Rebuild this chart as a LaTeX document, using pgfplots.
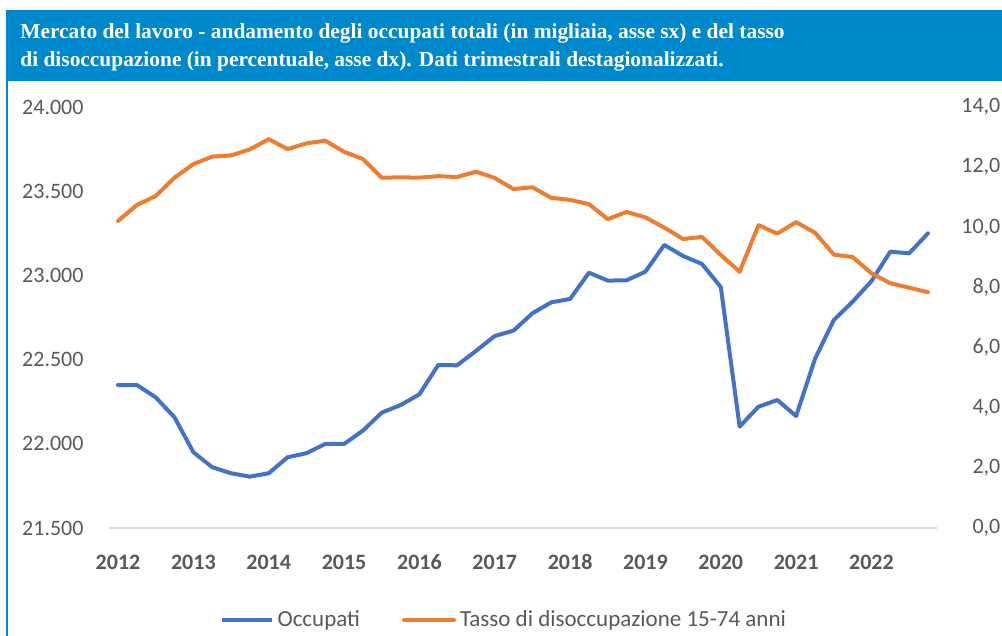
\documentclass[border=0pt]{standalone}
\usepackage{pgfplots}
\pgfplotsset{compat=1.18}
\usepackage{pgfplotstable}
\usepackage{fontspec}
\setmainfont{Carlito}
\newfontfamily\titlefont{Liberation Serif}
\definecolor{band}{HTML}{0088CC}
\definecolor{occ}{HTML}{4472C4}
\definecolor{tas}{HTML}{ED7D31}
\definecolor{tick}{HTML}{595959}
\definecolor{base}{HTML}{D9D9D9}

\pgfplotstableread{
x occ tasso
0 22349 10.21
1 22349 10.74
2 22276 11.04
3 22157 11.65
4 21950 12.10
5 21861 12.35
6 21825 12.39
7 21805 12.59
8 21825 12.93
9 21920 12.60
10 21944 12.79
11 21999 12.88
12 21999 12.51
13 22078 12.27
14 22185 11.65
15 22230 11.66
16 22294 11.65
17 22468 11.70
18 22466 11.67
19 22551 11.85
20 22640 11.64
21 22672 11.27
22 22775 11.33
23 22840 10.98
24 22860 10.91
25 23016 10.77
26 22969 10.27
27 22971 10.51
28 23022 10.33
29 23181 9.99
30 23115 9.61
31 23068 9.68
32 22931 9.08
33 22102 8.52
34 22220 10.07
35 22260 9.79
36 22165 10.17
37 22504 9.82
38 22735 9.09
39 22844 9.01
40 22966 8.47
41 23141 8.14
42 23131 7.99
43 23250 7.84
}\datatable

\begin{document}
\begin{tikzpicture}[x=1pt,y=1pt]
\useasboundingbox (0,0) rectangle (501,318);
\fill[white] (0,0) rectangle (501,318);
\fill[band] (3,277.5) rectangle (501,313);
\fill[band] (3,0) rectangle (4.2,313);
\node[anchor=base west, text=white, font=\titlefont\bfseries\fontsize{10.7}{14}\selectfont, inner sep=0] at (10,298.5) {Mercato del lavoro - andamento degli occupati totali (in migliaia, asse sx) e del tasso};
\node[anchor=base west, text=white, font=\titlefont\bfseries\fontsize{10.7}{14}\selectfont, inner sep=0] at (10,284.5) {di disoccupazione (in percentuale, asse dx). Dati trimestrali destagionalizzati.};

\begin{axis}[
  at={(54.3pt,54pt)}, anchor=south west,
  scale only axis, width=414.4pt, height=210.5pt,
  xmin=-0.5, xmax=43.5, ymin=21500, ymax=24000,
  axis y line*=left, axis x line*=bottom,
  axis line style={draw=none},
  major tick length=0pt,
  xtick={0,4,8,12,16,20,24,28,32,36,40},
  xticklabels={2012,2013,2014,2015,2016,2017,2018,2019,2020,2021,2022},
  xticklabel style={font=\bfseries\fontsize{11}{13}\selectfont, text=tick, anchor=base, yshift=-21pt},
  ytick={21500,22000,22500,23000,23500,24000},
  scaled y ticks=false,
  yticklabel style={font=\fontsize{11}{13}\selectfont, text=tick, xshift=-9pt,
    /pgf/number format/.cd, fixed, 1000 sep={.}, assume math mode=true},
  clip=false,
]
\draw[base, line width=0.7pt] (axis cs:-0.5,21500) -- (axis cs:43.5,21500);
\addplot[occ, line width=2pt, line join=round, line cap=round] table[x=x,y=occ]{\datatable};
\end{axis}

\begin{axis}[
  at={(54.3pt,54pt)}, anchor=south west,
  scale only axis, width=414.4pt, height=210.5pt,
  xmin=-0.5, xmax=43.5, ymin=0, ymax=14,
  axis y line*=right, axis x line=none,
  axis line style={draw=none},
  major tick length=0pt,
  ytick={0,2,4,6,8,10,12,14},
  yticklabel style={font=\fontsize{11}{13}\selectfont, text=tick, anchor=east, xshift=35pt,
    /pgf/number format/.cd, fixed, fixed zerofill, precision=1, use comma, assume math mode=true},
  clip=false,
  legend style={at={(0.478,-0.2185)}, anchor=center, draw=none, fill=none,
    legend columns=2, font=\fontsize{11.5}{13}\selectfont, text=tick,
    /tikz/every even column/.append style={column sep=19pt}},
  legend image code/.code={\draw[#1, line width=2pt] (0pt,0pt) -- (25pt,0pt);},
]
\addlegendimage{occ, line width=2pt}
\addlegendentry{Occupati}
\addplot[tas, line width=2pt, line join=round, line cap=round] table[x=x,y=tasso]{\datatable};
\addlegendentry{Tasso di disoccupazione 15-74 anni}
\end{axis}
\end{tikzpicture}
\end{document}
